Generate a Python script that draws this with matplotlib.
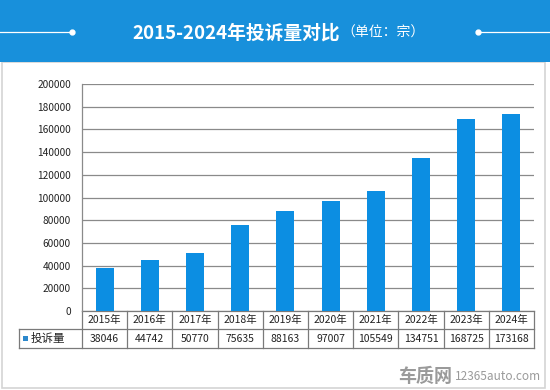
import matplotlib
matplotlib.use("Agg")
import matplotlib.pyplot as plt
from matplotlib.patches import Rectangle
from matplotlib.lines import Line2D

plt.rcParams['font.family'] = ['Noto Sans CJK SC', 'DejaVu Sans']

years = ["2015年", "2016年", "2017年", "2018年", "2019年", "2020年", "2021年", "2022年", "2023年", "2024年"]
values = [38046, 44742, 50770, 75635, 88163, 97007, 105549, 134751, 168725, 173168]
series_name = "投诉量"
title_main = "2015-2024年投诉量对比"
title_unit = "（单位：宗）"
yticks = list(range(0, 200001, 20000))

W, H = 550, 390
fig = plt.figure(figsize=(W / 100, H / 100), dpi=100)
fig.patch.set_facecolor("white")

def fx(px):
    return px / W

def fy(py):
    return 1 - py / H

# panel
fig.patches.append(Rectangle((fx(2), fy(388)), fx(545) - fx(2), fy(62) - fy(388),
                             transform=fig.transFigure, facecolor="white",
                             edgecolor="#d4d4d4", lw=1.2, zorder=-5))
# header
header_color = "#1890db"
fig.patches.append(Rectangle((0, fy(62)), 1, 62 / H, transform=fig.transFigure,
                             facecolor=header_color, edgecolor="none", zorder=1))
fig.lines.append(Line2D([0, fx(72)], [fy(32), fy(32)], transform=fig.transFigure,
                        color="white", lw=0.9, zorder=2))
fig.lines.append(Line2D([fx(478), 1], [fy(32), fy(32)], transform=fig.transFigure,
                        color="white", lw=0.9, zorder=2))
fig.lines.append(Line2D([fx(72), fx(478)], [fy(32), fy(32)], transform=fig.transFigure,
                        color="white", lw=0, marker="o", ms=3.5, ls="none", zorder=2))
fig.text(fx(340), fy(33), title_main, color="white", fontsize=13.5, fontweight="bold",
         ha="right", va="center", zorder=3)
fig.text(fx(341), fy(33), title_unit, color="white", fontsize=10, ha="left", va="center", zorder=3)

# axes
left, right, top, bottom = 82, 534, 84, 311
ax = fig.add_axes([fx(left), fy(bottom), (right - left) / W, (bottom - top) / H])
bar_color = "#0c8ee2"
x = list(range(len(values)))
ax.bar(x, values, width=0.4, color=bar_color, zorder=3)
ax.set_xlim(-0.5, len(values) - 0.5)
ax.set_ylim(0, 200000)
ax.set_yticks(yticks)
ax.set_yticklabels([str(v) for v in yticks], fontsize=7.3, color="#222222")
ax.tick_params(axis="y", length=0, pad=8)
ax.set_xticks([])
ax.grid(axis="y", color="#8a8a8a", lw=0.9, zorder=1)
for s in ["top", "right", "bottom"]:
    ax.spines[s].set_visible(False)
ax.spines["left"].set_color("#8a8a8a")
ax.spines["left"].set_linewidth(0.9)
ax.set_facecolor("none")

# data table
ph = bottom - top
r1 = -(329 - bottom) / ph
r2 = -(348 - bottom) / ph
xl = (19 - left) / (right - left)
lc = "#7a7a7a"
tr = ax.transAxes
kw = dict(transform=tr, color=lc, lw=0.9, clip_on=False)
ax.add_line(Line2D([0, 1], [0, 0], **kw))
ax.add_line(Line2D([xl, 1], [r1, r1], **kw))
ax.add_line(Line2D([xl, 1], [r2, r2], **kw))
ax.add_line(Line2D([xl, xl], [r1, r2], **kw))
n = len(values)
for i in range(n + 1):
    xa = i / n
    ax.add_line(Line2D([xa, xa], [0, r2], **kw))
for i in range(n):
    xc = (i + 0.5) / n
    ax.text(xc, r1 / 2, years[i], transform=tr, ha="center", va="center", fontsize=7.5, color="#222222")
    ax.text(xc, (r1 + r2) / 2, str(values[i]), transform=tr, ha="center", va="center", fontsize=7.5, color="#222222")
xs = (25 - left) / (right - left)
ax.add_patch(Rectangle((xs - 0.004, (r1 + r2) / 2 - 0.012), 0.011, 0.024, transform=tr,
                       facecolor="#2c88cc", edgecolor="none", clip_on=False))
ax.text((31 - left) / (right - left), (r1 + r2) / 2, series_name, transform=tr, ha="left",
        va="center", fontsize=8.3, color="#222222")

# watermark
fig.text(fx(398), fy(377), "车质网", color="#9a9a9a", fontsize=13, fontweight="bold",
         ha="left", va="center", style="italic")
fig.text(fx(541), fy(377), "12365auto.com", color="#9a9a9a", fontsize=8.5,
         ha="right", va="center")

fig.savefig("out.png", dpi=100)
